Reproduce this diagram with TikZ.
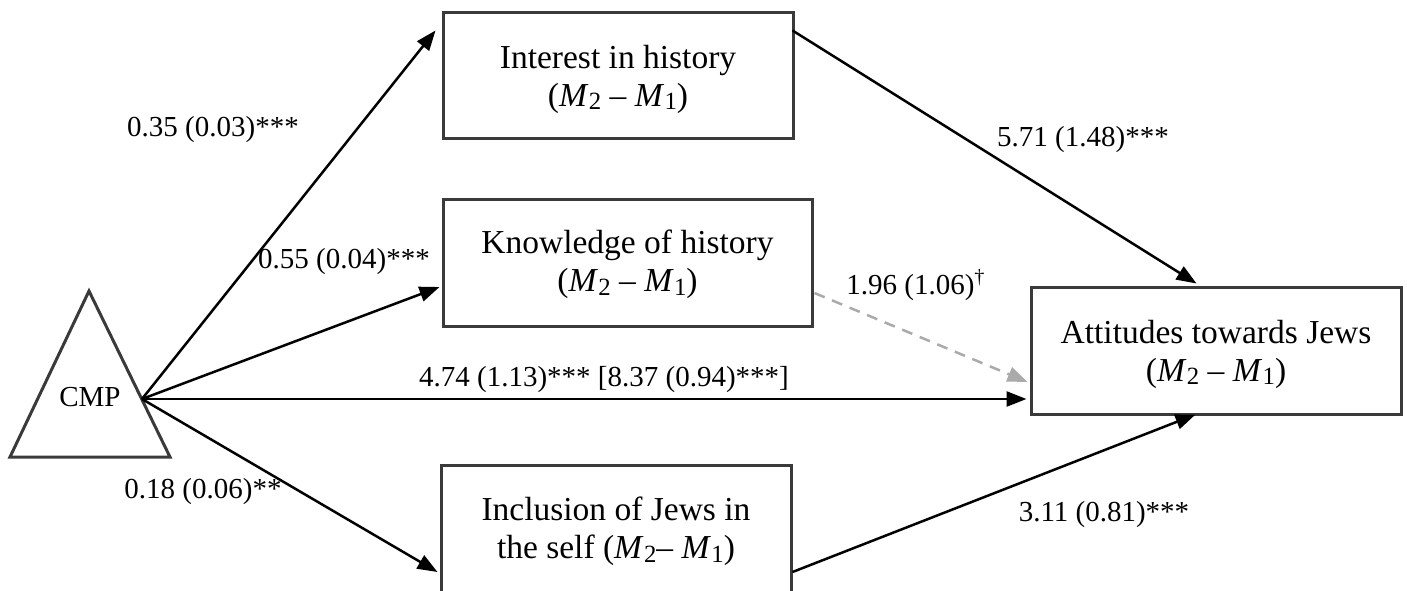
\documentclass[tikz,border=0pt]{standalone}
\usepackage{fontspec}
\setmainfont{Liberation Serif}
\usepackage{graphicx}
\usetikzlibrary{arrows.meta,calc}
\definecolor{boxgray}{HTML}{3A3A3A}
\definecolor{dashgray}{HTML}{AAAAAA}
\newcommand{\Msb}[1]{\textit{M}\kern0.2pt\raisebox{-0.1em}{\scalebox{0.74}{#1}}}
\begin{document}
\begin{tikzpicture}[x=0.5pt,y=-0.5pt,
  box/.style={draw=boxgray,line width=1.5pt,rectangle,minimum width=#1,
    minimum height=63.5pt,inner sep=0pt},
  boxtext/.style={inner sep=0pt,align=center,
    font=\fontsize{16.75}{19}\selectfont},
  lab/.style={font=\fontsize{14.5}{17}\selectfont,inner sep=0pt},
  arr/.style={line width=1.25pt,-{Triangle[length=10pt,width=7.5pt]}},
  dsh/.style={draw=dashgray,line width=1.25pt,dash pattern=on 5.5pt off 4pt,
    -{Triangle[length=10pt,width=7.5pt]}},
  tri/.style={draw=boxgray,line width=1.5pt,line join=miter}]
\useasboundingbox (0,0) rectangle (1407,590);

% triangle (CMP)
\draw[tri] (89,291) -- (170,457) -- (10,457) -- cycle;
\node[lab,font=\fontsize{14.5}{17}\selectfont] (cmp) at (90,397) {CMP};
\coordinate (src) at (142,399);

% boxes
\node[box=175pt,minimum height=63pt] (int) at (618,75) {};
\node[boxtext] (intT) at ($(int.center)+(0,4)$)
  {Interest in history\\(\Msb{2} – \Msb{1})};
\node[box=184.5pt] (know) at (627.5,262.5) {};
\node[boxtext] (knowT) at ($(know.center)+(0,2)$)
  {Knowledge of history\\(\Msb{2} – \Msb{1})};
\node[box=175pt] (incl) at (616,528.5) {};
\node[boxtext] (inclT) at ($(incl.center)+(0,3)$)
  {Inclusion of Jews in\\the self (\Msb{2}– \Msb{1})};
\node[box=185pt] (att) at (1216,350.5) {};
\node[boxtext] (attT) at ($(att.center)+(0,4)$)
  {Attitudes towards Jews\\(\Msb{2} – \Msb{1})};

% connectors
\draw[arr] (src) -- ($(int.north west)+(-6,20)$);
\draw[arr] (src) -- ($(know.west)+(-2,24.5)$);
\draw[arr] (src) -- ($(att.west |- src)+(-3,0)$);
\draw[arr] (src) -- ($(incl.west)+(-2,43.5)$);
\draw[arr] ($(int.north east)+(-2,20)$) -- ($(att.north west)+(167,-2)$);
\draw[dsh] ($(know.east)+(1,30.5)$) -- ($(att.west)+(-2,31.5)$);
\draw[arr] ($(incl.east)+(0,43.5)$) -- ($(att.south west)+(166,-1)$);

% labels
\node[lab] (l1) at (213,130) {0.35 (0.03)***};
\node[lab] (l2) at (344,262) {0.55 (0.04)***};
\node[lab] (l3) at (604,380) {4.74 (1.13)*** [8.37 (0.94)***]};
\node[lab] (l4) at (203,492) {0.18 (0.06)**};
\node[lab] (l5) at (1104,515) {3.11 (0.81)***};
\node[lab] (l6) at (1083,140) {5.71 (1.48)***};
\node[lab] (l7) at (916,285) {1.96 (1.06)\textsuperscript{†}};
\end{tikzpicture}
\end{document}
